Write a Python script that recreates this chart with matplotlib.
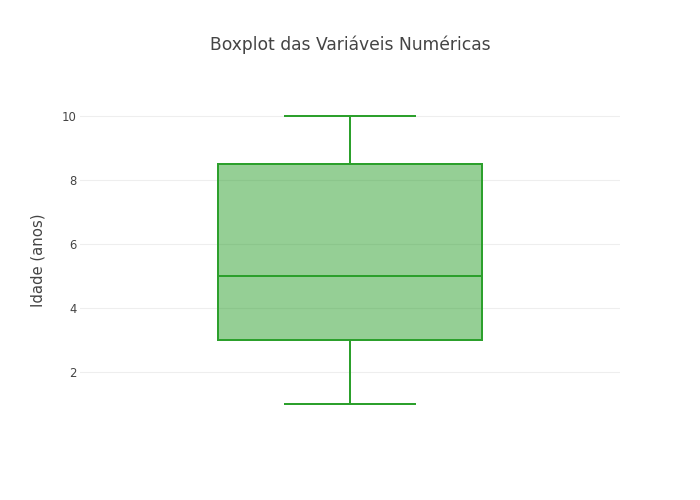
import matplotlib
matplotlib.use("Agg")
import matplotlib.pyplot as plt

# Data (box statistics)
labels = ["Idade"]
whisker_low = [1.0]
q1_vals = [3.0]
median_vals = [5.0]
q3_vals = [8.5]
whisker_high = [10.0]
y_ticks = [2, 4, 6, 8, 10]

plt.rcParams['font.family'] = ['DejaVu Sans']

line_color = '#2ca02c'
fill_color = (44/255, 160/255, 44/255, 0.5)

fig = plt.figure(figsize=(7, 5), dpi=100)
ax = fig.add_axes([80/700, 80/500, 540/700, 320/500])

stats = []
for lab, lo, q1, med, q3, hi in zip(labels, whisker_low, q1_vals, median_vals, q3_vals, whisker_high):
    stats.append(dict(label=lab, whislo=lo, q1=q1, med=med, q3=q3, whishi=hi, fliers=[]))

lw = 1.44
ax.bxp(stats, positions=[0], widths=0.489, capwidths=0.24, patch_artist=True,
       showfliers=False,
       boxprops=dict(facecolor=fill_color, edgecolor=line_color, linewidth=lw),
       medianprops=dict(color=line_color, linewidth=lw),
       whiskerprops=dict(color=line_color, linewidth=lw),
       capprops=dict(color=line_color, linewidth=lw))

ax.set_xlim(-0.5, 0.5)
ax.set_ylim(0.5, 10.5)
ax.set_yticks(y_ticks)
ax.set_xticks([])
ax.tick_params(axis='y', length=0, pad=2.5, labelsize=8.4, labelcolor='#444444')
ax.grid(axis='y', color='#eeeeee', linewidth=0.8)
ax.set_axisbelow(True)
for s in ax.spines.values():
    s.set_visible(False)

fig.text(38/700, 1 - 260/500, 'Idade (anos)', rotation=90, ha='center', va='center',
         fontsize=10.7, color='#444444')
fig.text(350/700, 1 - 45/500, 'Boxplot das Variáveis Numéricas', ha='center', va='center',
         fontsize=12.3, color='#444444')

fig.savefig('out.png', dpi=100, facecolor='white')
